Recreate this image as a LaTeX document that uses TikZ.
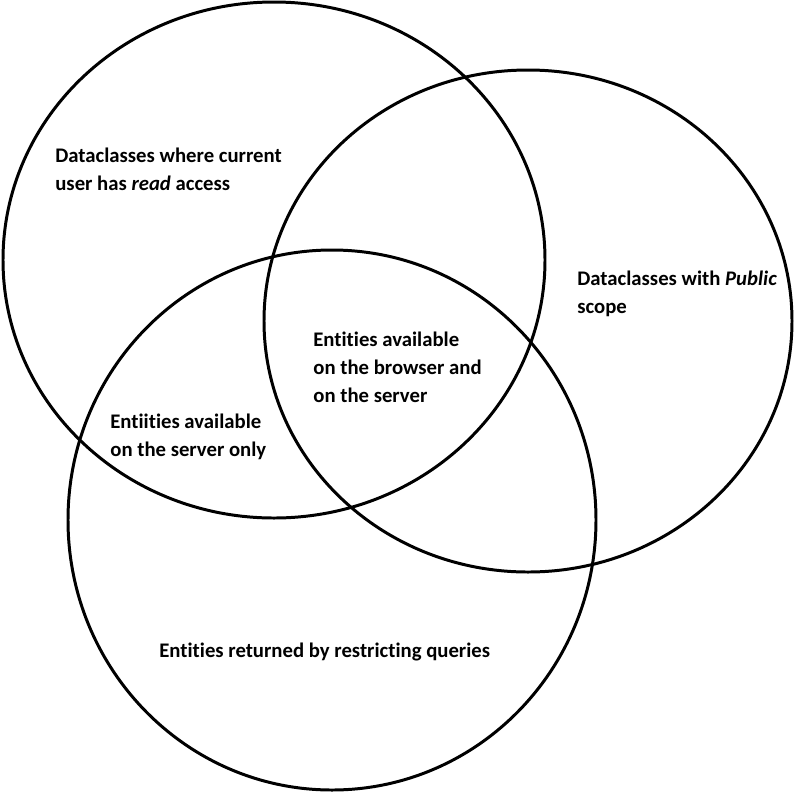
\documentclass[tikz,border=0pt]{standalone}
\usepackage{fontspec}
\setmainfont{Carlito}[Ligatures={NoCommon}]
\usetikzlibrary{positioning}

\begin{document}
\begin{tikzpicture}[x=0.02cm, y=-0.02cm,
    set/.style={line width=1.7pt},
    label/.style={anchor=base west, align=left, font=\bfseries\fontsize{11.8}{15.9}\selectfont, inner sep=0pt}]
    \useasboundingbox (0,0) rectangle (795,792);

    \draw [set] (274,260) ellipse [x radius=271, y radius=258];
    \draw [set] (528,321) ellipse [x radius=264, y radius=251];
    \draw [set] (332,520) ellipse [x radius=264, y radius=270];

    % base anchor sits on the last line
    \node [label] (read) at (55,190) {Dataclasses where current\\user has \textit{read} access};
    \node [label] (public) at (577,313) {Dataclasses with \textit{Public}\\scope};
    \node [label] (both) at (313,402) {Entities available\\on the browser and\\on the server};
    \node [label] (server) at (110,456) {Entiities available\\on the server only};
    \node [label] (queries) at (159,657) {Entities returned by restricting queries};
\end{tikzpicture}
\end{document}
